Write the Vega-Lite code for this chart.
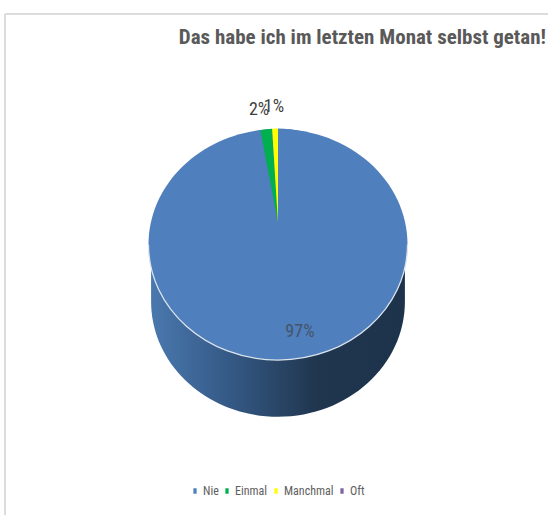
{"$schema":"https://vega.github.io/schema/vega-lite/v6.json","width":549,"height":516,"padding":0,"autosize":{"type":"fit","contains":"padding"},"background":"white","config":{"view":{"stroke":null},"axis":{"disable":true},"font":"Roboto Condensed, Noto Sans Condensed, Open Sans Condensed, DejaVu Sans Condensed, Roboto"},"data":{"values":[{"answer":"Nie","share":0.97,"rank":1},{"answer":"Einmal","share":0.02,"rank":2},{"answer":"Manchmal","share":0.01,"rank":3},{"answer":"Oft","share":0,"rank":4}]},"encoding":{"x":{"datum":278.5,"type":"quantitative","scale":{"domain":[0,549],"nice":false,"zero":false}},"y":{"datum":223,"type":"quantitative","scale":{"domain":[0,516],"reverse":true,"nice":false,"zero":false}}},"layer":[{"transform":[{"filter":"datum.rank==1"}],"mark":{"type":"rule","color":"#dcdcdc","strokeWidth":2},"encoding":{"x":{"datum":5,"type":"quantitative"},"y":{"datum":14,"type":"quantitative"},"y2":{"datum":516}}},{"transform":[{"filter":"datum.rank==1"}],"mark":{"type":"rule","color":"#dcdcdc","strokeWidth":2},"encoding":{"y":{"datum":14,"type":"quantitative"},"x":{"datum":5,"type":"quantitative"},"x2":{"datum":549}}},{"transform":[{"filter":"datum.rank==1"}],"mark":{"type":"point","filled":true,"opacity":1,"size":67081,"shape":"M-0.98,0L-0.98,0.44A0.98,0.89,0,0,0,0.98,0.44L0.98,0Z","color":{"gradient":"linear","x1":0,"x2":1,"y1":0,"y2":0,"stops":[{"offset":0,"color":"#4a78ae"},{"offset":0.3,"color":"#355a87"},{"offset":0.65,"color":"#20364f"},{"offset":1,"color":"#1d334b"}]}},"encoding":{"x":{"datum":278.5,"type":"quantitative"},"y":{"datum":245,"type":"quantitative"}}},{"transform":[{"filter":"datum.rank==1"}],"mark":{"type":"point","filled":true,"opacity":1,"size":67081,"shape":"M-1,0A1,0.892,0,1,1,1,0A1,0.892,0,1,1,-1,0Z","color":"#4f7fbc","strokeWidth":0},"encoding":{"x":{"datum":278.5,"type":"quantitative"},"y":{"datum":245,"type":"quantitative"}}},{"transform":[{"filter":"datum.rank==1"}],"mark":{"type":"point","filled":false,"opacity":1,"size":67081,"shape":"M-1,0A1,0.892,0,0,0,1,0","stroke":"#dce4ee","strokeWidth":1.3},"encoding":{"x":{"datum":278.5,"type":"quantitative"},"y":{"datum":245,"type":"quantitative"}}},{"mark":{"type":"arc","radius":94},"encoding":{"theta":{"field":"share","type":"quantitative","stack":true},"order":{"field":"rank"},"color":{"field":"answer","type":"nominal","scale":{"domain":["Nie","Einmal","Manchmal","Oft"],"range":["#4f7fbc","#00b050","#ffff00","#8064a2"]},"legend":{"title":null,"orient":"none","legendX":189,"legendY":485,"direction":"horizontal","columns":4,"columnPadding":2,"symbolType":"M-0.6,-1H0.6V1H-0.6Z","symbolSize":30,"symbolStrokeWidth":0,"labelFont":"Roboto Condensed, Noto Sans Condensed, Open Sans Condensed, DejaVu Sans Condensed, Roboto","labelFontSize":12,"labelColor":"#606060","labelOffset":2,"padding":0}}}},{"transform":[{"filter":"datum.rank==1"}],"mark":{"type":"text","fontSize":18,"color":"#44546a"},"encoding":{"text":{"field":"share","format":".0%"},"x":{"datum":300.5,"type":"quantitative"},"y":{"datum":333,"type":"quantitative"}}},{"transform":[{"filter":"datum.rank==2"}],"mark":{"type":"text","fontSize":18,"color":"#404040"},"encoding":{"text":{"field":"share","format":".0%"},"x":{"datum":259.5,"type":"quantitative"},"y":{"datum":110,"type":"quantitative"}}},{"transform":[{"filter":"datum.rank==3"}],"mark":{"type":"text","fontSize":18,"color":"#404040"},"encoding":{"text":{"field":"share","format":".0%"},"x":{"datum":274.5,"type":"quantitative"},"y":{"datum":107,"type":"quantitative"}}},{"transform":[{"filter":"datum.rank==1"}],"mark":{"type":"text","fontWeight":"bold","fontSize":21,"color":"#595959","align":"right","text":"Das habe ich im letzten Monat selbst getan!"},"encoding":{"x":{"datum":547,"type":"quantitative"},"y":{"datum":38,"type":"quantitative"}}}]}
